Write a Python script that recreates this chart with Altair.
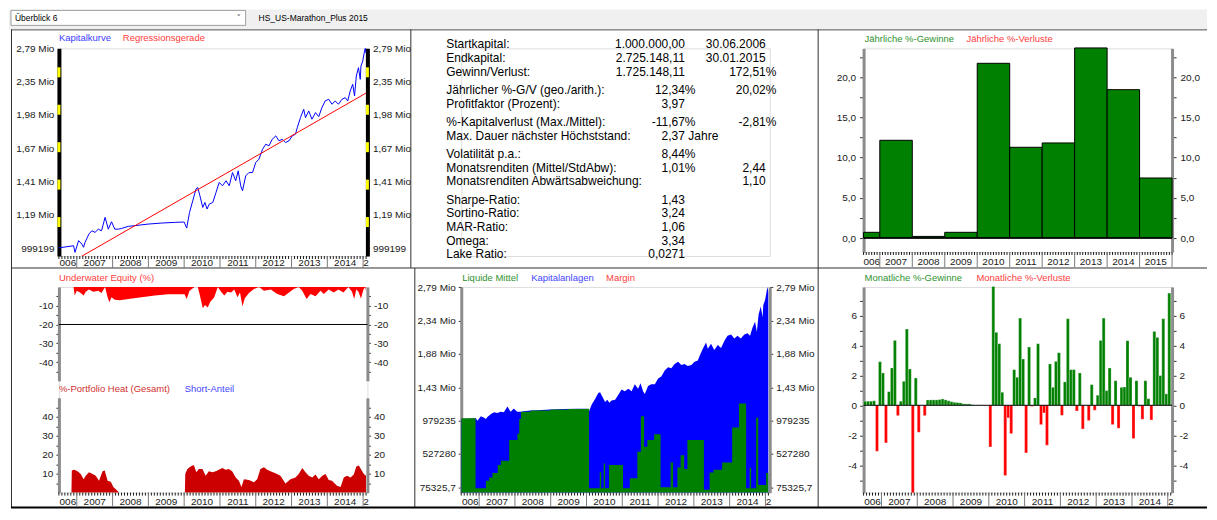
import re
import altair as alt
import pandas as pd

FONT = "Liberation Sans"
LBL = "#202020"

# ---------------- data ----------------
eq_year = [2006.50, 2006.91, 2006.95, 2007.05, 2007.14, 2007.19, 2007.23, 2007.34, 2007.42, 2007.51,
           2007.60, 2007.69, 2007.79, 2007.88, 2007.97, 2008.06, 2008.16, 2008.25, 2008.44, 2008.62,
           2008.99, 2009.36, 2009.73, 2010.00, 2010.07, 2010.15, 2010.24, 2010.33, 2010.38, 2010.44,
           2010.52, 2010.58, 2010.64, 2010.70, 2010.80, 2010.89, 2010.98, 2011.07, 2011.17, 2011.26,
           2011.35, 2011.44, 2011.51, 2011.58, 2011.63, 2011.72, 2011.81, 2011.91, 2012.00, 2012.09,
           2012.19, 2012.28, 2012.37, 2012.46, 2012.56, 2012.65, 2012.74, 2012.83, 2012.93, 2013.02,
           2013.11, 2013.16, 2013.25, 2013.34, 2013.39, 2013.48, 2013.57, 2013.67, 2013.76, 2013.85,
           2013.94, 2014.04, 2014.13, 2014.22, 2014.31, 2014.41, 2014.50, 2014.57, 2014.64, 2014.71,
           2014.76, 2014.81, 2014.87, 2014.92, 2014.94, 2014.99, 2015.04, 2015.06, 2015.08]
eq_value = [1000000, 1011000, 977000, 1038000, 1020000, 1003000, 1029000, 1074000, 1092000, 1083000,
            1101000, 1092000, 1170000, 1101000, 1144000, 1101000, 1101000, 1105000, 1117000, 1121000,
            1130000, 1136000, 1140000, 1142000, 1107000, 1200000, 1274000, 1353000, 1364000, 1307000,
            1231000, 1263000, 1221000, 1252000, 1263000, 1330000, 1400000, 1376000, 1412000, 1376000,
            1473000, 1412000, 1486000, 1376000, 1341000, 1448000, 1473000, 1473000, 1551000, 1578000,
            1661000, 1704000, 1690000, 1748000, 1779000, 1734000, 1748000, 1719000, 1734000, 1779000,
            1794000, 1856000, 1954000, 2039000, 1954000, 2022000, 1938000, 2005000, 1964000, 2057000,
            2129000, 2147000, 2093000, 2129000, 2093000, 2147000, 2165000, 2129000, 2241000, 2319000,
            2184000, 2420000, 2526000, 2379000, 2547000, 2614000, 2751000, 2789000, 2725000]

reg_year = [2006.50, 2015.08]
reg_value = [895500, 2216000]

uw_year = [2006.50, 2006.91, 2006.94, 2007.00, 2007.09, 2007.19, 2007.25, 2007.34, 2007.46, 2007.60,
           2007.69, 2007.79, 2007.86, 2007.91, 2007.97, 2008.06, 2008.20, 2008.44, 2008.81, 2009.18,
           2009.55, 2010.01, 2010.07, 2010.15, 2010.29, 2010.38, 2010.44, 2010.52, 2010.58, 2010.66,
           2010.73, 2010.84, 2010.94, 2011.03, 2011.12, 2011.21, 2011.31, 2011.40, 2011.49, 2011.56,
           2011.63, 2011.69, 2011.81, 2011.95, 2012.09, 2012.23, 2012.42, 2012.60, 2012.79, 2012.93,
           2013.06, 2013.20, 2013.30, 2013.42, 2013.53, 2013.67, 2013.81, 2013.90, 2014.04, 2014.18,
           2014.31, 2014.45, 2014.59, 2014.69, 2014.75, 2014.81, 2014.87, 2014.94, 2015.01, 2015.06,
           2015.08]
uw_value = [0, 0, -4.6, -2.0, -2.9, -4.6, -2.5, -1.4, -2.5, -2.0,
            -3.2, 0, -5.5, -8.2, -5.5, -6.8, -7.1, -6.4, -5.5, -4.6,
            -3.9, -3.9, -6.4, -2.0, 0, 0, -4.6, -11.4, -9.6, -10.9,
            -7.9, -5.5, 0, -2.5, -4.6, -2.5, -2.9, -1.4, -5.5, -2.9,
            -10.4, -6.1, -3.2, -1.1, 0, -2.0, -1.4, -3.8, -5.0, -2.9,
            -1.1, 0, -2.0, -6.4, -3.8, -5.0, -2.0, -3.8, -1.4, -2.9,
            -1.4, -2.9, 0, -2.5, -6.4, -1.4, -2.5, -6.1, -1.4, 0,
            -2.3]

heat_year = [2006.50, 2006.85, 2006.86, 2006.93, 2007.02, 2007.11, 2007.19, 2007.25, 2007.34, 2007.44,
             2007.53, 2007.62, 2007.72, 2007.78, 2007.86, 2007.95, 2008.02, 2008.09, 2008.18, 2010.02,
             2010.03, 2010.09, 2010.18, 2010.27, 2010.34, 2010.41, 2010.51, 2010.60, 2010.69, 2010.79,
             2010.88, 2010.97, 2011.07, 2011.16, 2011.25, 2011.34, 2011.44, 2011.53, 2011.60, 2011.67,
             2011.81, 2011.95, 2012.04, 2012.13, 2012.23, 2012.32, 2012.41, 2012.55, 2012.69, 2012.83,
             2012.97, 2013.11, 2013.20, 2013.30, 2013.39, 2013.48, 2013.58, 2013.67, 2013.76, 2013.86,
             2013.95, 2014.04, 2014.13, 2014.27, 2014.37, 2014.46, 2014.55, 2014.65, 2014.74, 2014.81,
             2014.88, 2014.95, 2015.02, 2015.08]
heat_value = [0, 0, 11.6, 12.0, 11.3, 9.8, 7.1, 8.9, 10.7, 9.8,
              8.9, 6.3, 11.3, 11.6, 6.3, 5.7, 3.0, 1.8, 0, 0,
              9.8, 12.5, 13.8, 14.6, 10.7, 12.5, 12.5, 8.9, 11.3, 10.7,
              11.3, 12.0, 13.0, 12.0, 12.5, 11.3, 8.0, 6.3, 3.0, 7.1,
              6.6, 5.4, 7.1, 12.5, 13.4, 12.0, 11.3, 10.2, 8.9, 4.8,
              7.1, 8.0, 9.8, 13.0, 10.7, 8.9, 8.0, 9.5, 7.1, 8.9,
              9.8, 6.6, 6.3, 3.6, 3.0, 8.0, 8.9, 8.0, 9.5, 13.8,
              14.3, 12.0, 9.8, 8.9]

cash_year = [2006.50, 2006.90, 2007.19, 2007.28, 2007.37, 2007.52, 2007.61, 2007.84, 2008.07, 2008.12,
             2008.17, 2008.44, 2008.99, 2009.50, 2009.99, 2010.07, 2010.37, 2010.41, 2010.48, 2010.52,
             2010.63, 2011.02, 2011.21, 2011.42, 2011.52, 2011.61, 2011.70, 2011.89, 2012.07, 2012.35,
             2012.42, 2012.54, 2012.63, 2012.73, 2012.82, 2013.28, 2013.44, 2013.55, 2013.79, 2014.07,
             2014.26, 2014.46, 2014.56, 2014.60, 2014.74, 2014.80, 2015.02, 2015.08]
cash_value = [1010000, 62000, 165000, 210000, 269000, 377000, 435000, 718000, 800000, 1000000,
              1101000, 1117000, 1130000, 1137000, 1141000, 62000, 280000, 62000, 400000, 62000,
              377000, 62000, 197000, 556000, 1040000, 624000, 718000, 795000, 75000, 412000,
              75000, 345000, 511000, 323000, 718000, 44000, 277000, 313000, 412000, 885000,
              1210000, 62000, 340000, 62000, 1020000, 107000, 269000, 269000]

yr_label = [2006, 2007, 2008, 2009, 2010, 2011, 2012, 2013, 2014, 2015]
yr_return = [0.71, 12.16, 0.2, 0.71, 21.74, 11.29, 11.83, 23.65, 18.46, 7.47]

# monthly returns Jul 2006 .. Jan 2015
month_return = [
    0.27, 0.27, 0.27, 0.30, -3.07, 2.91,
    2.16, -2.51, 0.91, 2.49, 4.33, -0.69, 0.27, 1.60, 5.09, 2.42, -5.84, 1.82,
    -1.80, 0.00, -0.69, 0.36, 0.36, 0.36, 0.36, 0.38, 0.42, 0.36, 0.30, 0.24,
    0.20, 0.18, 0.16, 0.10, 0.09, 0.09, 0.03, 0.00, 0.00, 0.00, 0.00, 0.00,
    -2.78, 7.93, 4.87, 4.11, 0.87, -4.69, -0.84, -1.89, 2.38, 1.87, 5.82, 3.09,
    -3.18, 3.89, -0.07, 0.49, 4.11, -1.29, -0.51, -2.67, 2.76, 1.20, 2.93, 3.51,
    -0.67, 1.56, 5.78, 2.38, 2.38, -0.38, 2.16, -1.58, 0.00, -1.02, 1.38, -0.33,
    0.67, 4.33, 5.82, 0.98, 2.49, -1.29, 1.64, -1.53, 1.20, 1.22, 4.31, 1.87,
    -2.22, 1.64, -0.07, -0.93, 1.64, 0.44, -0.98, 4.93, 4.53, 1.98, 5.78, 0.76,
    7.49]

eq_ticks = [999199, 1185700, 1406900, 1669400, 1980900, 2350600, 2789000]
alloc_ticks = [75325.7, 527280.3, 979235.0, 1431189.6, 1883144.2, 2335098.8, 2787053.4]
yr_ticks = [0, 2.5, 5, 7.5, 10, 12.5, 15, 17.5, 20, 22.5]
mo_ticks = [-5, -4, -3, -2, -1, 0, 1, 2, 3, 4, 5, 6, 7]
uw_ticks = [-45, -40, -35, -30, -25, -20, -15, -10, -5]
heat_ticks = [5, 10, 15, 20, 25, 30, 35, 40, 45]

time_label_pos = [2006.75, 2007.5, 2008.5, 2009.5, 2010.5, 2011.5, 2012.5, 2013.5, 2014.5, 2015.0833]
time_label_txt = ["006", "2007", "2008", "2009", "2010", "2011", "2012", "2013", "2014", "2"]
year_label_pos = [2006.75, 2007.5, 2008.5, 2009.5, 2010.5, 2011.5, 2012.5, 2013.5, 2014.5, 2015.5]
year_label_txt = ["006", "2007", "2008", "2009", "2010", "2011", "2012", "2013", "2014", "2015"]
time_year_ticks = [2007, 2008, 2009, 2010, 2011, 2012, 2013, 2014, 2015]
bar_year_ticks = [2007, 2008, 2009, 2010, 2011, 2012, 2013, 2014, 2015, 2016]

stat_label = ["Startkapital:", "Endkapital:", "Gewinn/Verlust:", "Jährlicher %-G/V (geo./arith.):",
              "Profitfaktor (Prozent):", "%-Kapitalverlust (Max./Mittel):", "Max. Dauer nächster Höchststand:",
              "Volatilität p.a.:", "Monatsrenditen (Mittel/StdAbw):", "Monatsrenditen Abwärtsabweichung:",
              "Sharpe-Ratio:", "Sortino-Ratio:", "MAR-Ratio:", "Omega:", "Lake Ratio:"]
stat_value = ["1.000.000,00", "2.725.148,11", "1.725.148,11", "12,34%", "3,97", "-11,67%", "2,37 Jahre",
              "8,44%", "1,01%", "", "1,43", "3,24", "1,06", "3,34", "0,0271"]
stat_extra = ["30.06.2006", "30.01.2015", "172,51%", "20,02%", "", "-2,81%", "", "", "2,44", "1,10",
              "", "", "", "", ""]
stat_group = [0, 0, 0, 1, 1, 2, 2, 3, 3, 3, 4, 4, 4, 4, 4]

# ---------------- helpers ----------------
W = 309
HA, HB, HC, HDE, HF, HG = 208, 208, 204, 206, 206, 206
one = pd.DataFrame({"k": [0]})

xs_t = alt.Scale(domain=[2006.5, 2015.12], nice=False, zero=False)
xs_c = alt.Scale(domain=[2006.5, 2016.0], nice=False, zero=False)
t_ticks = [round(2006.5 + k / 12, 5) for k in range(104)]
c_ticks = [round(2006.5 + k / 12, 5) for k in range(115)]

MIO = ("datum.value >= 1000000 ? replace(format(datum.value / 1000000, '.2f'), '.', ',') + ' Mio' : "
       "(datum.value < 100000 ? replace(format(datum.value, '.1f'), '.', ',') : format(datum.value, 'd'))")
YR = "datum.value % 5 == 0 ? replace(format(datum.value, '.1f'), '.', ',') : ''"
TEN = "datum.value % 10 == 0 ? toString(datum.value) : ''"
TWO = "datum.value % 2 == 0 ? toString(datum.value) : ''"


def txt(s, x, y, color="#000000", size=9.5, align="left", font=FONT):
    return alt.Chart(one).mark_text(text=s, align=align, baseline="middle", font=font,
                                    fontSize=size, color=color).encode(x=alt.value(x), y=alt.value(y))


def seg(x, x2, y, y2, color, w=1.0):
    return alt.Chart(one).mark_rule(color=color, strokeWidth=w).encode(
        x=alt.value(x), x2=alt.value(x2), y=alt.value(y), y2=alt.value(y2))


def box(x, x2, y, y2, fill, stroke=None, sw=0):
    kw = dict(fill=fill, strokeWidth=sw)
    if stroke:
        kw["stroke"] = stroke
    return alt.Chart(one).mark_rect(**kw).encode(
        x=alt.value(x), x2=alt.value(x2), y=alt.value(y), y2=alt.value(y2))


def base_axis():
    return alt.Axis(labels=False, ticks=False, title=None, grid=False, orient="bottom",
                    domain=True, domainColor="#6e6e6e", domainWidth=1)


def x_band(xs, minor, major, h, long):
    """Ruler-like time axis: monthly ticks, year separators."""
    mdf = pd.DataFrame({"p": minor})
    ydf = pd.DataFrame({"p": major})
    return [
        alt.Chart(mdf).mark_rule(color="#1a1a1a", strokeWidth=1).encode(
            x=alt.X("p:Q", scale=xs, axis=None), y=alt.value(h), y2=alt.value(h + 3)),
        alt.Chart(ydf).mark_rule(color="#7a7a7a", strokeWidth=1).encode(
            x=alt.X("p:Q", scale=xs, axis=None), y=alt.value(h), y2=alt.value(h + long)),
    ]


def y_axis(orient, values, expr, dcolor="#8c8c8c", dwidth=3, tsize=3, pad=3):
    kw = dict(orient=orient, values=values, labelExpr=expr, title=None, grid=False,
              domainColor=dcolor, domainWidth=dwidth, labelPadding=pad, labelFont=FONT,
              labelFontSize=10, labelColor=LBL, labelOverlap=False, labelFlush=False)
    if tsize > 0:
        kw.update(ticks=True, tickSize=tsize, tickColor="#303030", tickWidth=1)
    else:
        kw.update(ticks=False)
    return alt.Axis(**kw)


def time_labels(pos, text, xs, y):
    df = pd.DataFrame({"p": pos, "lab": text})
    return alt.Chart(df).mark_text(font=FONT, fontSize=10, color=LBL, baseline="middle").encode(
        x=alt.X("p:Q", scale=xs, axis=None), y=alt.value(y), text="lab:N")


def P(x):
    return x - 58


def Q(y):
    return y - 47


# ---------------- panel A: equity curve ----------------
eq_df = pd.DataFrame({"t": eq_year, "v": eq_value})
reg_df = pd.DataFrame({"t": reg_year, "v": reg_value})
ys_a = alt.Scale(type="log", domain=[959000, 2790000], nice=False)

a_layers = [
    box(P(8), P(1208), Q(8), Q(28), "#f0f0f0"),
    box(P(10), P(245), Q(9), Q(24), "#ffffff", "#a0a0a0", 1),
    txt("Überblick 6", P(14), Q(16.5), "#000000", 8.5),
    txt("˅", P(238), Q(16.5), "#505050", 9, "center", "DejaVu Sans"),
    txt("HS_US-Marathon_Plus 2015", P(258), Q(16.5), "#000000", 8.5),
    seg(P(10), P(1208), Q(28.5), Q(28.5), "#505050"),
    seg(P(10.5), P(10.5), Q(28), Q(507), "#303030"),
    seg(P(410.5), P(410.5), Q(28), Q(267), "#303030"),
    seg(P(414.5), P(414.5), Q(267), Q(507), "#303030"),
    seg(P(818.5), P(818.5), Q(28), Q(507), "#303030"),
    seg(P(10), P(1208), Q(267), Q(267), "#303030"),
    seg(P(10), P(1208), Q(507), Q(507), "#000000", 2),
]
a_layers += [
    alt.Chart(eq_df).mark_line(color="#0000ff", strokeWidth=1).encode(
        x=alt.X("t:Q", scale=xs_t, axis=base_axis()),
        y=alt.Y("v:Q", scale=ys_a, axis=y_axis("left", eq_ticks, MIO, "#000000", 4, 0, 5))),
    alt.Chart(eq_df).mark_line(opacity=0).encode(
        x=alt.X("t:Q", scale=xs_t, axis=None),
        y=alt.Y("v:Q", scale=ys_a, axis=y_axis("right", eq_ticks, MIO, "#000000", 4, 0, 5))),
    alt.Chart(reg_df).mark_line(color="#ff0000", strokeWidth=1, clip=True).encode(
        x=alt.X("t:Q", scale=xs_t, axis=None), y=alt.Y("v:Q", scale=ys_a, axis=None)),
]
for k in range(5):
    y0 = Q(66 + 37.5 * k)
    a_layers.append(box(-1.5, 1.5, y0, y0 + 10, "#ffff00"))
    a_layers.append(box(W - 1.5, W + 1.5, y0, y0 + 10, "#ffff00"))
a_layers += x_band(xs_t, t_ticks, time_year_ticks, HA, 12)
a_layers += [
    txt("Kapitalkurve", 0, -10, "#3c3cff"),
    txt("Regressionsgerade", 64, -10, "#ff3c3c"),
    time_labels(time_label_pos, time_label_txt, xs_t, HA + 7),
]
A = alt.layer(*a_layers).resolve_scale(y="independent").properties(width=W, height=HA)


# ---------------- panel B: statistics ----------------
def split_num(s):
    m = re.match(r"^([-0-9.,]*)( ?)(.*)$", s)
    num, space, rest = m.group(1), m.group(2), m.group(3)
    return num, ("" if space else rest), (rest if space else "")


n2, s2, w2 = zip(*[split_num(s) for s in stat_value])
n3, s3, w3 = zip(*[split_num(s) for s in stat_extra])
stat_df = pd.DataFrame({"label": stat_label, "n2": n2, "s2": s2, "w2": w2, "n3": n3, "s3": s3, "w3": w3,
                        "slot": [i + 0.327 * g for i, g in enumerate(stat_group)]})
ys_b = alt.Scale(domain=[0, 10], range=[-4, 133.5], nice=False, zero=False)


def stat_col(field, x, align):
    return alt.Chart(stat_df).mark_text(align=align, baseline="middle", font=FONT, fontSize=12,
                                        color="#000000").encode(
        x=alt.value(x), y=alt.Y("slot:Q", scale=ys_b, axis=None), text=f"{field}:N")


B = alt.layer(stat_col("label", -15, "left"), stat_col("n2", 224, "right"), stat_col("s2", 224, "left"),
              stat_col("w2", 227.5, "left"), stat_col("n3", 305, "right"), stat_col("s3", 305, "left"),
              stat_col("w3", 308.5, "left")).properties(width=W, height=HB)

# ---------------- panel C: yearly returns ----------------
yr_df = pd.DataFrame({"year": yr_label, "r": yr_return})
yr_df["s"] = yr_df["year"].clip(lower=2006.5)
yr_df["e"] = yr_df["year"] + 1
ys_c = alt.Scale(domain=[-1.74, 23.6], nice=False, zero=False)
c_layers = [
    alt.Chart(yr_df).mark_bar(fill="#008000", stroke="#000000", strokeWidth=1).encode(
        x=alt.X("s:Q", scale=xs_c, axis=base_axis()), x2="e:Q",
        y=alt.Y("r:Q", scale=ys_c, axis=y_axis("left", yr_ticks, YR, tsize=4, pad=4)), y2=alt.datum(0)),
    alt.Chart(yr_df).mark_bar(opacity=0).encode(
        x=alt.X("s:Q", scale=xs_c, axis=None), x2="e:Q",
        y=alt.Y("r:Q", scale=ys_c, axis=y_axis("right", yr_ticks, YR, tsize=4, pad=4)), y2=alt.datum(0)),
    alt.Chart(one).mark_rule(color="#000000", strokeWidth=1.5).encode(
        x=alt.value(0), x2=alt.value(W), y=alt.YDatum(0, type="quantitative", scale=ys_c, axis=None)),
    txt("Jährliche %-Gewinne", 1, -9, "#2d922d"),
    txt("Jährliche %-Verluste", 103, -9, "#ff3c3c"),
    time_labels(year_label_pos, year_label_txt, xs_c, HC + 10),
]
c_layers += x_band(xs_c, c_ticks, bar_year_ticks, HC, 15)
C = alt.layer(*c_layers).resolve_scale(y="independent").properties(width=W, height=HC)

# ---------------- panel D+E: underwater / portfolio heat ----------------
uw_df = pd.DataFrame({"t": uw_year, "v": uw_value})
heat_df = pd.DataFrame({"t": heat_year, "v": heat_value})
ys_d = alt.Scale(domain=[-50, 0], range=[94, 0], nice=False, zero=False)
ys_e = alt.Scale(domain=[0, 50], range=[206, 111], nice=False, zero=False)
de_layers = [
    alt.Chart(uw_df).mark_area(color="#ff0000", opacity=1).encode(
        x=alt.X("t:Q", scale=xs_t, axis=None),
        y=alt.Y("v:Q", scale=ys_d, axis=y_axis("left", uw_ticks, TEN)), y2=alt.datum(0)),
    alt.Chart(uw_df).mark_line(opacity=0).encode(
        x=alt.X("t:Q", scale=xs_t, axis=None),
        y=alt.Y("v:Q", scale=ys_d, axis=y_axis("right", uw_ticks, TEN))),
    alt.Chart(one).mark_rule(color="#000000", strokeWidth=1).encode(
        x=alt.value(0), x2=alt.value(W), y=alt.YDatum(-20, type="quantitative", scale=ys_d, axis=None)),
    alt.Chart(heat_df).mark_area(color="#cc0000", opacity=1).encode(
        x=alt.X("t:Q", scale=xs_t, axis=base_axis()),
        y=alt.Y("v:Q", scale=ys_e, axis=y_axis("left", heat_ticks, TEN)), y2=alt.datum(0)),
    alt.Chart(heat_df).mark_line(opacity=0).encode(
        x=alt.X("t:Q", scale=xs_t, axis=None),
        y=alt.Y("v:Q", scale=ys_e, axis=y_axis("right", heat_ticks, TEN))),
    txt("Underwater Equity (%)", 0, -9, "#ff3c3c"),
    txt("%-Portfolio Heat (Gesamt)", 0, 102, "#d03030"),
    txt("Short-Anteil", 126, 102, "#4444ff"),
    time_labels(time_label_pos, time_label_txt, xs_t, HDE + 9),
]
de_layers += x_band(xs_t, t_ticks, time_year_ticks, HDE, 14)
DE = alt.layer(*de_layers).resolve_scale(y="independent").properties(width=W, height=HDE)

# ---------------- panel F: allocation ----------------
cash_df = pd.DataFrame({"t": cash_year, "c": cash_value})
ys_f = alt.Scale(domain=[3800, 2791000], nice=False, zero=False)
f_layers = [
    alt.Chart(eq_df).mark_area(color="#0000ff", opacity=1, clip=True).encode(
        x=alt.X("t:Q", scale=xs_t, axis=base_axis()),
        y=alt.Y("v:Q", scale=ys_f, axis=y_axis("left", alloc_ticks, MIO)), y2=alt.datum(0)),
    alt.Chart(cash_df).mark_area(color="#008000", opacity=1, interpolate="step-after", clip=True).encode(
        x=alt.X("t:Q", scale=xs_t, axis=None),
        y=alt.Y("c:Q", scale=ys_f, axis=None), y2=alt.datum(0)),
    alt.Chart(eq_df).mark_line(opacity=0).encode(
        x=alt.X("t:Q", scale=xs_t, axis=None),
        y=alt.Y("v:Q", scale=ys_f, axis=y_axis("right", alloc_ticks, MIO))),
    txt("Liquide Mittel", 1, -9, "#2d922d"),
    txt("Kapitalanlagen", 70, -9, "#4444ff"),
    txt("Margin", 145, -9, "#ff3c3c"),
    time_labels(time_label_pos, time_label_txt, xs_t, HF + 9),
]
f_layers += x_band(xs_t, t_ticks, time_year_ticks, HF, 14)
F = alt.layer(*f_layers).resolve_scale(y="independent").properties(width=W, height=HF)

# ---------------- panel G: monthly returns ----------------
mo_df = pd.DataFrame({"r": month_return})
mo_df["s"] = 2006.5 + mo_df.index / 12
mo_df["e"] = mo_df["s"] + 1 / 12
ys_g = alt.Scale(domain=[-5.83, 7.9], nice=False, zero=False)
g_layers = [
    alt.Chart(mo_df).mark_bar(stroke="#ffffff", strokeWidth=0.4, strokeOpacity=0.7).encode(
        x=alt.X("s:Q", scale=xs_t, axis=base_axis()), x2="e:Q",
        y=alt.Y("r:Q", scale=ys_g, axis=y_axis("left", mo_ticks, TWO, tsize=4, pad=3)), y2=alt.datum(0),
        color=alt.condition("datum.r >= 0", alt.value("#008000"), alt.value("#ff0000"))),
    alt.Chart(mo_df).mark_bar(opacity=0).encode(
        x=alt.X("s:Q", scale=xs_t, axis=None), x2="e:Q",
        y=alt.Y("r:Q", scale=ys_g, axis=y_axis("right", mo_ticks, TWO, tsize=4, pad=3)), y2=alt.datum(0)),
    alt.Chart(one).mark_rule(color="#000000", strokeWidth=1).encode(
        x=alt.value(0), x2=alt.value(W), y=alt.YDatum(0, type="quantitative", scale=ys_g, axis=None)),
    txt("Monatliche %-Gewinne", 1, -9, "#2d922d"),
    txt("Monatliche %-Verluste", 113, -9, "#ff3c3c"),
    time_labels(time_label_pos, time_label_txt, xs_t, HG + 9),
]
g_layers += x_band(xs_t, t_ticks, time_year_ticks, HG, 14)
G = alt.layer(*g_layers).resolve_scale(y="independent").properties(width=W, height=HG)

chart = alt.concat(A, B, C, DE, F, G, columns=3, spacing={"row": 31, "column": 94},
                   bounds="flush").properties(padding=0, background="#ffffff")
chart = chart.configure_view(stroke=None).configure(font=FONT)

chart.save("out.html", embed_options={"renderer": "svg", "actions": False})
